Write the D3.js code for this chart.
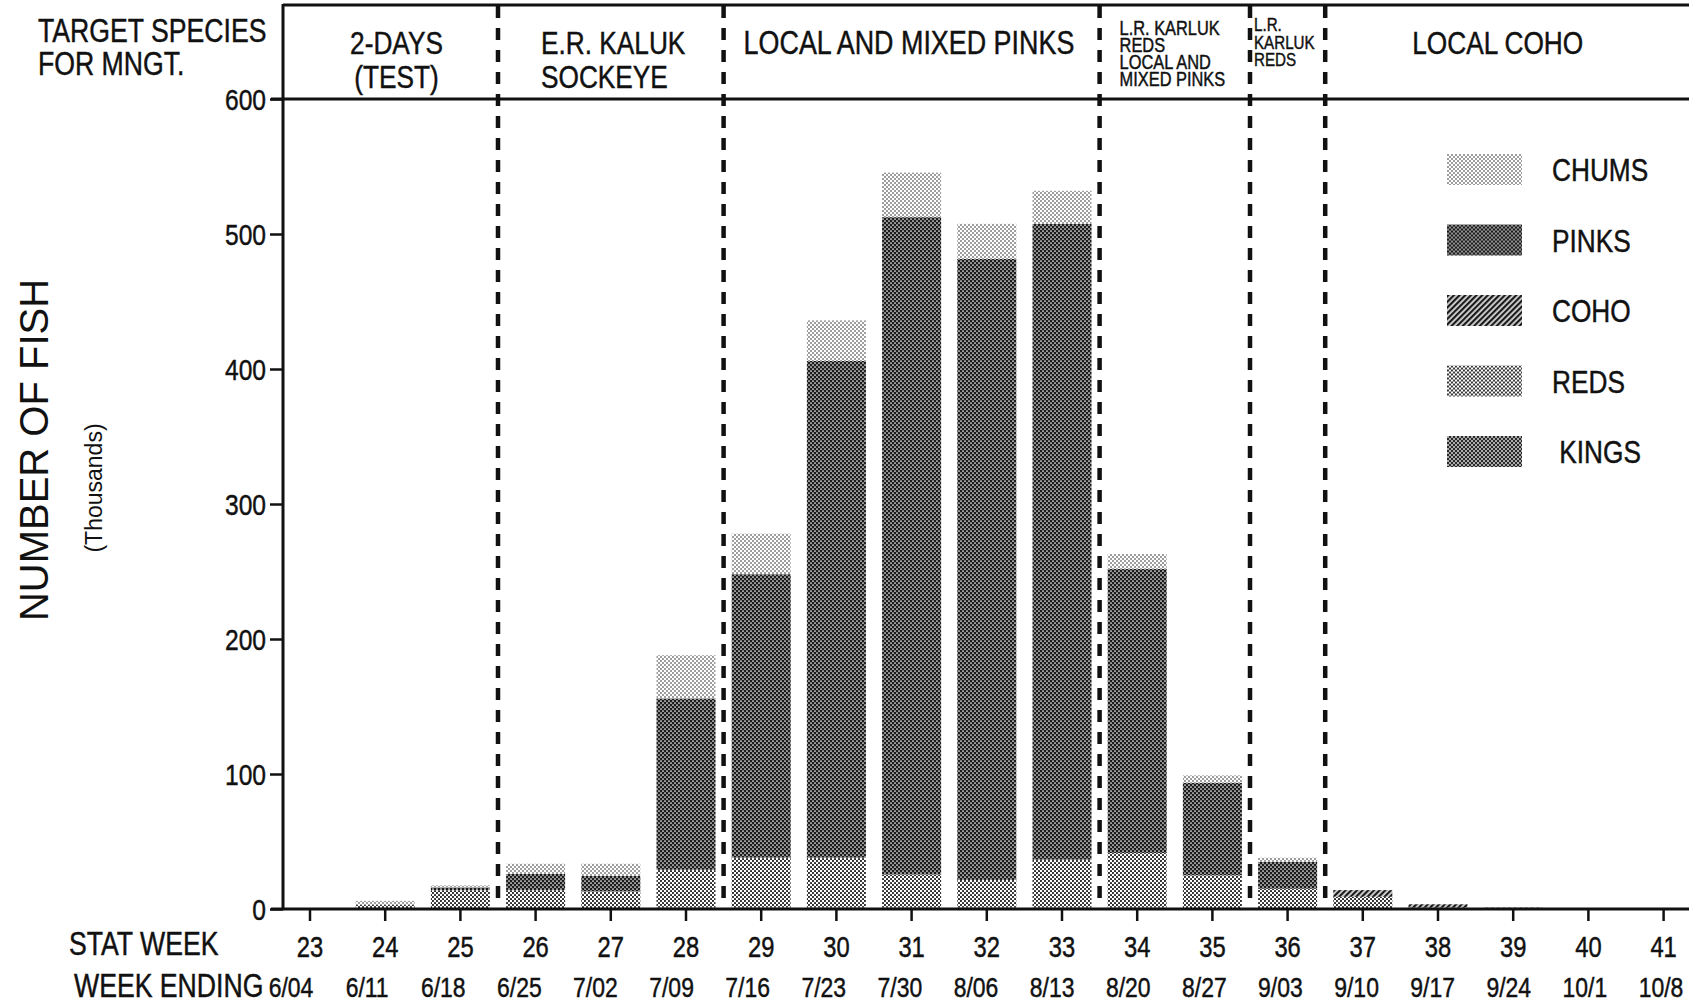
<!DOCTYPE html>
<html>
<head>
<meta charset="utf-8">
<script src="https://cdn.jsdelivr.net/npm/d3@7/dist/d3.min.js"></script>
<style>
  html, body { margin: 0; padding: 0; background: #fff; }
  svg { display: block; }
  text { font-family: 'Liberation Sans', Arial, Helvetica, sans-serif; fill: #111; }
  text.narrow { stroke: #111; stroke-width: 0.45; }
</style>
</head>
<body>
<div id="chart"></div>
<script>
/* Catch by stat week, thousands of fish */
var weeks = [23, 24, 25, 26, 27, 28, 29, 30, 31, 32, 33, 34, 35, 36, 37, 38, 39, 40, 41];
var weekEnding = ['6/04', '6/11', '6/18', '6/25', '7/02', '7/09', '7/16', '7/23', '7/30', '8/06',
                  '8/13', '8/20', '8/27', '9/03', '9/10', '9/17', '9/24', '10/1', '10/8'];

var kings = [0, 0, 0, 0.5, 0.5, 1, 1, 1, 1, 1, 1, 1, 0.5, 0.5, 0, 0, 0, 0, 0];
var reds  = [0, 3, 14, 13.5, 12.5, 28, 37, 37, 24.5, 20.5, 35.5, 40.5, 24.5, 14.5, 9, 1, 0, 0, 0];
var coho  = [0, 0, 0, 0, 0, 0, 0, 0, 0, 0, 0, 0, 0, 0, 5, 2.5, 1, 0.5, 0.3];
var pinks = [0, 0, 2, 12, 11.5, 127, 210, 368, 487, 460, 471, 210.5, 68.5, 20, 0, 0, 0, 0, 0];
var chums = [0, 3, 1.5, 7.5, 9, 32, 30, 30, 33, 26, 24.5, 11, 5.5, 3, 0, 0, 0, 0, 0];

var stackKeys = ['kings', 'reds', 'coho', 'pinks', 'chums'];
var legendKeys = ['chums', 'pinks', 'coho', 'reds', 'kings'];
var legendLabels = ['CHUMS', 'PINKS', 'COHO', 'REDS', ' KINGS'];

var yTicks = [0, 100, 200, 300, 400, 500, 600];

/* management periods: last stat week of each period before a divider */
var dividerAfter = [25, 28, 33, 35, 36];

var W = 1689, H = 1005;
var NARROW = 0.82;   // no narrow Helvetica installed, squeeze Liberation Sans instead

var rows = weeks.map(function (w, i) {
  return { week: w, ending: weekEnding[i], kings: kings[i], reds: reds[i], coho: coho[i], pinks: pinks[i], chums: chums[i] };
});

var svg = d3.select('#chart').append('svg')
  .attr('width', W)
  .attr('height', H);

function ntext(g, x, y, str, size, anchor) {
  return g.append('text')
    .attr('class', 'narrow')
    .attr('transform', 'translate(' + x + ',' + y + ') scale(' + NARROW + ',1)')
    .attr('font-size', size)
    .attr('text-anchor', anchor || 'start')
    .style('white-space', 'pre')
    .text(str);
}

/* Halftone-like fills */
var defs = svg.append('defs');

function dotPattern(id, bg, fg, r, size) {
  var p = defs.append('pattern')
    .attr('id', id)
    .attr('patternUnits', 'userSpaceOnUse')
    .attr('width', size).attr('height', size);
  p.append('rect').attr('width', size).attr('height', size).attr('fill', bg);
  p.append('circle').attr('cx', size / 4).attr('cy', size / 4).attr('r', r).attr('fill', fg);
  p.append('circle').attr('cx', size * 3 / 4).attr('cy', size * 3 / 4).attr('r', r).attr('fill', fg);
}

dotPattern('pat-chums', '#ffffff', '#222', 0.8, 4);
dotPattern('pat-reds', '#ffffff', '#1c1c1c', 1.05, 4);
dotPattern('pat-pinks', '#1c1c1c', '#ffffff', 0.85, 4);
dotPattern('pat-kings', '#2a2a2a', '#e8e8e8', 0.9, 4);

var coh = defs.append('pattern')
  .attr('id', 'pat-coho')
  .attr('patternUnits', 'userSpaceOnUse')
  .attr('width', 4).attr('height', 4)
  .attr('patternTransform', 'rotate(45)');
coh.append('rect').attr('width', 4).attr('height', 4).attr('fill', '#d8d8d8');
coh.append('rect').attr('width', 2.2).attr('height', 4).attr('fill', '#1a1a1a');

function fillFor(key) { return 'url(#pat-' + key + ')'; }

/* Scales */
var x = d3.scaleBand()
  .domain(weeks)
  .range([272.4, 1701.2])
  .paddingInner(0.215)
  .paddingOuter(0.1075);

var xDate = d3.scalePoint()
  .domain(weekEnding)
  .range([291, 1661]);

var y = d3.scaleLinear()
  .domain([0, 600])
  .range([909, 99]);

var axisX = 283;

/* Stacked bars */
var stacked = d3.stack().keys(stackKeys)(rows);

svg.append('g')
  .selectAll('g')
  .data(stacked)
  .join('g')
  .attr('fill', function (d) { return fillFor(d.key); })
  .selectAll('rect')
  .data(function (d) { return d; })
  .join('rect')
  .attr('x', function (d) { return x(d.data.week); })
  .attr('y', function (d) { return y(d[1]); })
  .attr('width', x.bandwidth())
  .attr('height', function (d) { return Math.max(0, y(d[0]) - y(d[1])); });

/* Management period dividers */
function divX(i) { return x(dividerAfter[i]) + x.bandwidth() / 2 + x.step() / 2; }

svg.append('g')
  .selectAll('line')
  .data(dividerAfter)
  .join('line')
  .attr('x1', function (d, i) { return divX(i); })
  .attr('x2', function (d, i) { return divX(i); })
  .attr('y1', 6)
  .attr('y2', y(0))
  .attr('stroke', '#111')
  .attr('stroke-width', 4.5)
  .attr('stroke-dasharray', '12,10');

/* Frame lines */
var frame = svg.append('g').attr('stroke', '#111').attr('stroke-width', 3);
frame.append('line').attr('x1', axisX).attr('x2', W).attr('y1', 5).attr('y2', 5);
frame.append('line').attr('x1', axisX - 12).attr('x2', W).attr('y1', y(600)).attr('y2', y(600));
frame.append('line').attr('x1', axisX - 12).attr('x2', W).attr('y1', y(0)).attr('y2', y(0));
frame.append('line').attr('x1', axisX).attr('x2', axisX).attr('y1', 4).attr('y2', y(0) + 1);

/* Y axis */
var gy = svg.append('g')
  .attr('transform', 'translate(' + axisX + ',0)')
  .call(d3.axisLeft(y).tickValues(yTicks).tickSize(13).tickFormat(''));
gy.select('.domain').remove();
gy.selectAll('.tick line').attr('stroke', '#111').attr('stroke-width', 2.5);

var yLab = svg.append('g');
yTicks.forEach(function (t) {
  ntext(yLab, axisX - 17, y(t) + 10.5, d3.format('d')(t), 30, 'end');
});

/* X axis (stat weeks) */
var gx = svg.append('g')
  .attr('transform', 'translate(0,' + y(0) + ')')
  .call(d3.axisBottom(x).tickSize(12).tickFormat(''));
gx.select('.domain').remove();
gx.selectAll('.tick line').attr('stroke', '#111').attr('stroke-width', 2.5);

var xLab = svg.append('g');
weeks.forEach(function (w) {
  ntext(xLab, x(w) + x.bandwidth() / 2, 957, String(w), 29, 'middle');
});
weekEnding.forEach(function (d) {
  ntext(xLab, xDate(d), 997, d, 28, 'middle');
});

ntext(svg, 69, 955, 'STAT WEEK', 32.5);
ntext(svg, 74, 997, 'WEEK ENDING', 32.5);

/* Axis titles */
svg.append('text')
  .attr('transform', 'translate(48,450) rotate(-90)')
  .attr('text-anchor', 'middle')
  .attr('font-size', 40)
  .text('NUMBER OF FISH');

svg.append('text')
  .attr('transform', 'translate(102,488) rotate(-90)')
  .attr('text-anchor', 'middle')
  .attr('font-size', 23)
  .text('(Thousands)');

/* Header: target species for management */
var hdr = svg.append('g');
ntext(hdr, 38, 42, 'TARGET SPECIES', 32.5);
ntext(hdr, 38, 75, 'FOR MNGT.', 32.5);

var mid0 = (axisX + divX(0)) / 2 + 6;
ntext(hdr, mid0, 54, '2-DAYS', 32, 'middle');
ntext(hdr, mid0, 88, '(TEST)', 32, 'middle');
ntext(hdr, divX(0) + 43, 54, 'E.R. KALUK', 32);
ntext(hdr, divX(0) + 43, 88, 'SOCKEYE', 32);
ntext(hdr, divX(1) + 20, 54, 'LOCAL AND MIXED PINKS', 32.8);
ntext(hdr, divX(4) + 87, 54, 'LOCAL COHO', 32);

['L.R. KARLUK', 'REDS', 'LOCAL AND', 'MIXED PINKS'].forEach(function (t, i) {
  ntext(hdr, divX(2) + 20, 35 + i * 17, t, 20);
});
['L.R.', 'KARLUK', 'REDS'].forEach(function (t, i) {
  ntext(hdr, divX(3) + 4, 31 + i * 17.5, t, 18.5);
});

/* Legend */
var legend = svg.append('g')
  .selectAll('g')
  .data(legendKeys)
  .join('g')
  .attr('transform', function (d, i) { return 'translate(1447,' + (154 + i * 70.5) + ')'; });

legend.append('rect')
  .attr('width', 75)
  .attr('height', 31)
  .attr('fill', function (d) { return fillFor(d); });

legend.each(function (d, i) {
  ntext(d3.select(this), 105, 27, legendLabels[i], 32);
});
</script>
</body>
</html>
